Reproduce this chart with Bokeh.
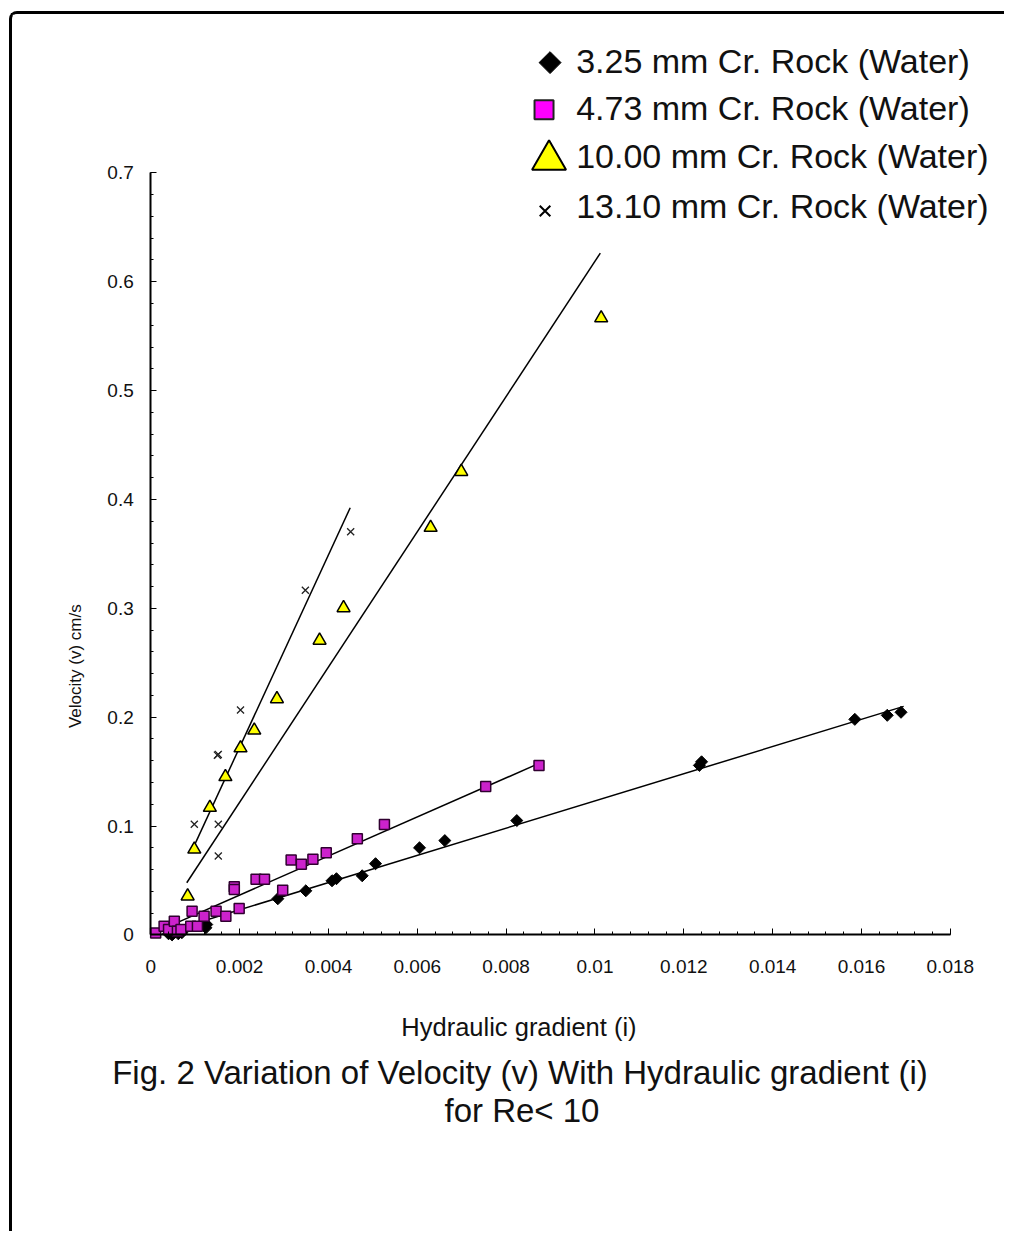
import numpy as np
from bokeh.plotting import figure
from bokeh.models import Range1d, Label, FixedTicker
from bokeh.embed import file_html
from bokeh.resources import INLINE

# ---------------- data ----------------
# 3.25 mm Cr. Rock (Water) - black diamonds
d325_x = [0.00040, 0.00048, 0.00055, 0.00062, 0.00070, 0.00124, 0.00126, 0.00286, 0.00349,
          0.00408, 0.00418, 0.00476, 0.00506, 0.00605, 0.00662, 0.00824, 0.01235, 0.01240,
          0.01585, 0.01658, 0.01689]
d325_y = [0.0010, 0.0000, 0.0030, 0.0010, 0.0020, 0.0065, 0.0095, 0.0332, 0.0405,
          0.0497, 0.0516, 0.0543, 0.0654, 0.0800, 0.0866, 0.1050, 0.1557, 0.1590,
          0.1980, 0.2017, 0.2045]
# 4.73 mm Cr. Rock (Water) - magenta squares
d473_x = [0.00011, 0.00030, 0.00040, 0.00053, 0.00060, 0.00068, 0.00090, 0.00093, 0.00105,
          0.00120, 0.00147, 0.00169, 0.00188, 0.00188, 0.00199, 0.00237, 0.00256, 0.00297,
          0.00316, 0.00339, 0.00365, 0.00395, 0.00465, 0.00526, 0.00754, 0.00874]
d473_y = [0.0018, 0.0080, 0.0050, 0.0126, 0.0034, 0.0050, 0.0080, 0.0218, 0.0080,
          0.0172, 0.0218, 0.0172, 0.0442, 0.0417, 0.0242, 0.0510, 0.0510, 0.0411,
          0.0688, 0.0648, 0.0694, 0.0755, 0.0884, 0.1013, 0.1363, 0.1557]
# 10.00 mm Cr. Rock (Water) - yellow triangles
d1000_x = [0.00083, 0.00098, 0.00133, 0.00168, 0.00202, 0.00233, 0.00284, 0.00380,
           0.00434, 0.00630, 0.00699, 0.01014]
d1000_y = [0.0356, 0.0786, 0.1170, 0.1452, 0.1716, 0.1879, 0.2167, 0.2705,
           0.3003, 0.3742, 0.4255, 0.5667]
# 13.10 mm Cr. Rock (Water) - crosses
d1310_x = [0.00098, 0.00152, 0.00152, 0.00150, 0.00152, 0.00202, 0.00348, 0.00450]
d1310_y = [0.1016, 0.1016, 0.0725, 0.1651, 0.1658, 0.2066, 0.3166, 0.3703]

# trend lines (end points)
fit325_x = [0.0003, 0.01695]
fit325_y = [0.0018, 0.2099]
fit473_x = [0.0003, 0.00874]
fit473_y = [0.0060, 0.1575]
fit1000_x = [0.00081, 0.01012]
fit1000_y = [0.0479, 0.6263]
fit1310_x = [0.00094, 0.00449]
fit1310_y = [0.0786, 0.3924]

series_names = ["3.25 mm Cr. Rock (Water)", "4.73 mm Cr. Rock (Water)",
                "10.00 mm Cr. Rock (Water)", "13.10 mm Cr. Rock (Water)"]

x_ticks = [0, 0.002, 0.004, 0.006, 0.008, 0.01, 0.012, 0.014, 0.016, 0.018]
x_tick_labels = ["0", "0.002", "0.004", "0.006", "0.008", "0.01", "0.012", "0.014", "0.016", "0.018"]
x_minor = [round(i * 0.0004, 4) for i in range(46)]
y_ticks = [0, 0.1, 0.2, 0.3, 0.4, 0.5, 0.6, 0.7]
y_tick_labels = ["0", "0.1", "0.2", "0.3", "0.4", "0.5", "0.6", "0.7"]
y_minor = [round(i * 0.02, 2) for i in range(36)]

x_title = "Hydraulic gradient (i)"
y_title = "Velocity (v) cm/s"
caption1 = "Fig. 2 Variation of Velocity (v) With Hydraulic gradient (i)"
caption2 = "for Re< 10"

# ---------------- layout (page pixels) ----------------
W, H = 995, 1220
ML, MT = 9, 11               # css margin of the figure box
BORDER = 3
CX0, CY0 = ML + BORDER, MT + BORDER     # canvas origin on the page
CW, CH = W - BORDER, H - BORDER         # canvas size (border-box)
AX_X0, AX_X1 = 150, 947      # page px of x = 0 and x = 0.018
AX_Y0, AX_Y1 = 932, 172      # page px of y = 0 and y = 0.7
LEFT_PANEL, BOTTOM_PANEL = 50, 60       # room kept for the (relocated) axis panels
FRAME_LEFT = CX0 + LEFT_PANEL
FRAME_BOTTOM = CY0 + CH - BOTTOM_PANEL
FRAME_TOP, FRAME_RIGHT = 16, 1001
FONT = "Liberation Sans"
TXT = "#111111"

sx = (AX_X1 - AX_X0) / 0.018
sy = (AX_Y0 - AX_Y1) / 0.7


def dx(px):
    return (px - AX_X0) / sx


def dy(py):
    return (AX_Y0 - py) / sy


p = figure(width=W, height=H, output_backend="svg", toolbar_location=None,
           x_range=Range1d(dx(FRAME_LEFT), dx(FRAME_RIGHT)),
           y_range=Range1d(dy(FRAME_BOTTOM), dy(FRAME_TOP)),
           min_border_left=LEFT_PANEL, min_border_right=CX0 + CW - FRAME_RIGHT,
           min_border_top=FRAME_TOP - CY0, min_border_bottom=BOTTOM_PANEL)
p.styles = {"border-left": "3px solid black", "border-top": "3px solid black",
            "border-top-left-radius": "8px", "margin-left": f"{ML}px", "margin-top": f"{MT}px"}
p.outline_line_color = None
p.grid.visible = False
p.background_fill_color = "white"
p.border_fill_color = "white"

for ax in (p.xaxis[0], p.yaxis[0]):
    ax.axis_line_width = 2
    ax.axis_line_color = "black"
    ax.major_tick_line_color = "black"
    ax.minor_tick_line_color = "black"
    ax.major_tick_in = 6
    ax.major_tick_out = 0
    ax.minor_tick_in = 3
    ax.minor_tick_out = 0
    ax.major_label_text_color = TXT
    ax.major_label_text_font = FONT
    ax.major_label_text_font_size = "19px"
    ax.fixed_location = 0

p.xaxis.ticker = FixedTicker(ticks=x_ticks, minor_ticks=x_minor)
p.xaxis.major_label_overrides = {t: l for t, l in zip(x_ticks, x_tick_labels)}
p.xaxis.bounds = (0, 0.018)
p.xaxis.major_label_standoff = 25

p.yaxis.ticker = FixedTicker(ticks=y_ticks, minor_ticks=y_minor)
p.yaxis.major_label_overrides = {t: l for t, l in zip(y_ticks, y_tick_labels)}
p.yaxis.bounds = (0, 0.7)
p.yaxis.major_label_standoff = 17

# trend lines
for fx, fy in ((fit325_x, fit325_y), (fit473_x, fit473_y), (fit1000_x, fit1000_y), (fit1310_x, fit1310_y)):
    p.line(fx, fy, line_color="black", line_width=1.5)

# points
p.scatter(d325_x, d325_y, marker="square", angle=np.pi / 4, size=8.5,
          fill_color="black", line_color="black")
p.scatter(d473_x, d473_y, marker="square", size=10, fill_color="#cc22cc", line_color="#300030", line_width=1.5)
p.scatter(d1000_x, d1000_y, marker="triangle", size=13, fill_color="#ffff00", line_color="black", line_width=1.5)
p.scatter(d1310_x, d1310_y, marker="x", size=10, line_color="#222222", line_width=1.3)

# legend (hand-built)
leg_rows = [62, 109, 157, 207]
p.scatter([dx(548)], [dy(leg_rows[0])], marker="square", angle=np.pi / 4, size=15.5,
          fill_color="black", line_color="black")
p.scatter([dx(542)], [dy(leg_rows[1])], marker="square", size=19, fill_color="#ff00ff",
          line_color="#222222", line_width=2)
p.scatter([dx(547)], [dy(leg_rows[2] + 2)], marker="triangle", size=34, fill_color="#ffff00",
          line_color="black", line_width=2)
p.scatter([dx(543)], [dy(leg_rows[3] + 3)], marker="x", size=15, line_color="black", line_width=2)
for name, row in zip(series_names, leg_rows):
    p.add_layout(Label(x=dx(574), y=dy(row - 2), text=name, text_baseline="middle",
                       text_font=FONT, text_font_size="34px", text_color=TXT))

# axis titles and figure caption
p.add_layout(Label(x=dx(75), y=dy(664), text=y_title, angle=np.pi / 2, text_align="center",
                   text_baseline="middle", text_font=FONT, text_font_size="17px", text_color=TXT))
for txt, cx, cy, fs in ((x_title, 517, 1024, "25.5px"), (caption1, 518, 1069, "33px"),
                        (caption2, 520, 1107, "33px")):
    p.add_layout(Label(x=dx(cx), y=dy(cy), text=txt, text_align="center", text_baseline="middle",
                       text_font=FONT, text_font_size=fs, text_color=TXT))

open("out.html", "w").write(file_html(p, INLINE))
